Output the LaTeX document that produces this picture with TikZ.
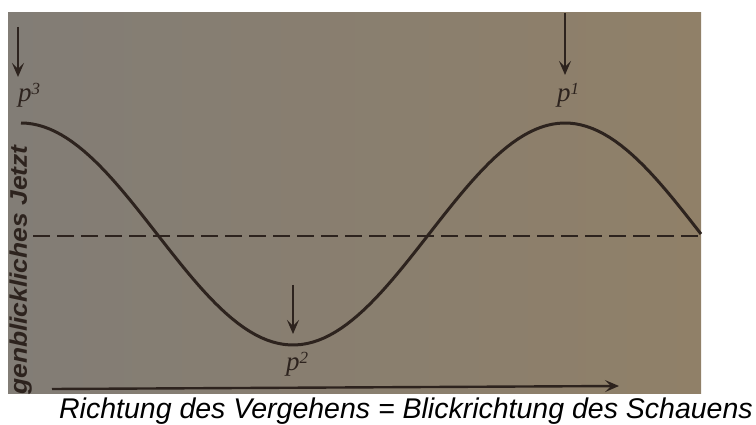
\documentclass[tikz,border=0pt]{standalone}
\usepackage{fontspec}
\setmainfont{Liberation Sans}
\newfontfamily\handfont{Liberation Serif}
\usetikzlibrary{arrows.meta}
\definecolor{ink}{RGB}{45,35,30}
\definecolor{paperl}{RGB}{130,125,118}
\definecolor{paperm}{RGB}{152,140,122}
\definecolor{paperr}{RGB}{144,128,104}
\begin{document}
\begin{tikzpicture}[x=1pt, y=-1pt, >={Stealth[length=14pt, width=12pt, inset=6pt]},
    inkline/.style={draw=ink, line width=2.4pt},
    plabel/.style={text=ink, inner sep=0pt, font=\fontsize{27}{27}\selectfont\handfont\itshape}]
    \useasboundingbox (0,0) rectangle (756,425);
    % Foto der Buchseite
    \fill[left color=paperl, middle color=paperm, right color=paperr] (8,13) rectangle (701,393);

    % Koordinaten
    \coordinate (A3) at (18,27);   % Pfeil p3
    \coordinate (B3) at (18,77);
    \coordinate (A1) at (565,13);  % Pfeil p1
    \coordinate (B1) at (565,75);
    \coordinate (A2) at (293,285); % Pfeil p2
    \coordinate (B2) at (293,334);
    \coordinate (D0) at (33,236);  % Jetzt-Linie
    \coordinate (D1) at (700,236);
    \coordinate (T0) at (52,389);  % Zeitachse
    \coordinate (T1) at (619,386);

    % Punkte
    \node[plabel] (P3) at (29,95) {p\raisebox{7pt}{\fontsize{17}{17}\selectfont 3}};
    \node[plabel] (P1) at (568,95) {p\raisebox{7pt}{\fontsize{17}{17}\selectfont 1}};
    \node[plabel] (P2) at (297,364) {p\raisebox{7pt}{\fontsize{17}{17}\selectfont 2}};

    % Welle
    \draw[inkline, line width=3pt] plot[domain=21:701, samples=120] (\x, {234 - 111*cos((\x-21)/544*360)});
    \draw[inkline, line width=2.2pt, dash pattern=on 17pt off 7pt] (D0) -- (D1);

    % Pfeile
    \draw[->, inkline] (A3) -- (B3);
    \draw[->, inkline] (A1) -- (B1);
    \draw[->, inkline] (A2) -- (B2);
    \draw[->, inkline] (T0) -- (T1);

    % Beschriftungen
    \node[rotate=90, anchor=base west, text=ink, inner sep=0pt,
          font=\fontsize{24}{24}\selectfont\bfseries\itshape] (jetzt) at (27,395) {\scalebox{1.1}[1]{genblickliches Jetzt}};
    \node[anchor=base, inner sep=0pt, font=\fontsize{28.5}{30}\selectfont\itshape] (caption) at (406,418)
          {Richtung des Vergehens = Blickrichtung des Schauens};
\end{tikzpicture}
\end{document}
